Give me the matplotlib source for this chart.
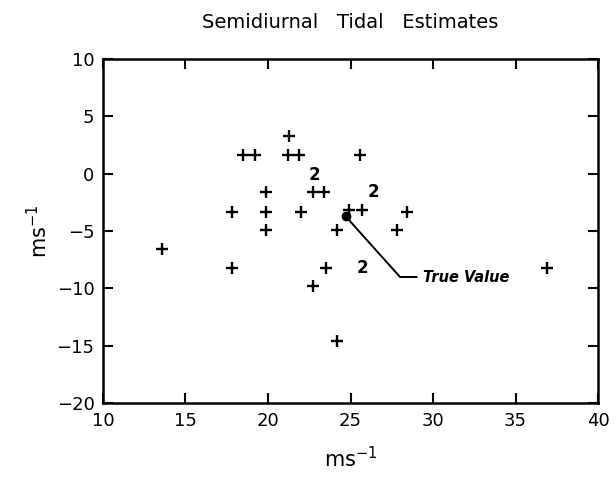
import matplotlib.pyplot as plt

# Estimates (m/s)
est_x = [21.3, 18.5, 19.2, 21.2, 21.9, 25.6,
         22.7, 23.4, 19.9,
         17.8, 19.9, 22.0, 24.9, 25.7, 28.4,
         19.9, 24.2, 27.8,
         13.6, 17.8, 23.5, 22.7, 24.2, 36.9]
est_y = [3.3, 1.6, 1.6, 1.6, 1.6, 1.6,
         -1.6, -1.6, -1.6,
         -3.3, -3.3, -3.3, -3.2, -3.2, -3.3,
         -4.9, -4.9, -4.9,
         -6.6, -8.2, -8.2, -9.8, -14.6, -8.2]

# places where two estimates coincide (drawn as "2")
dup_x = [22.8, 26.4, 25.7]
dup_y = [-0.1, -1.6, -8.2]

true_x, true_y = 24.7, -3.7

fig, ax = plt.subplots(figsize=(6.16, 4.8), dpi=100)
fig.subplots_adjust(left=0.167, right=0.971, bottom=0.160, top=0.877)

ax.plot(est_x, est_y, linestyle='none', marker='+', color='black',
        markersize=9, markeredgewidth=1.7)
for x, y in zip(dup_x, dup_y):
    ax.text(x, y, '2', ha='center', va='center', fontsize=12,
            fontweight='bold', color='black')

ax.plot(true_x, true_y, 'o', color='black', markersize=6)
ax.plot([true_x, 28.0, 29.0], [true_y, -9.0, -9.0], color='black', linewidth=1.4)
ax.text(29.4, -9.0, 'True Value', ha='left', va='center', fontsize=10.5,
        style='italic', fontweight='bold', color='black')

ax.set_xlim(10, 40)
ax.set_ylim(-20, 10)
ax.set_xticks(range(10, 41, 5))
ax.set_yticks(range(-20, 11, 5))
ax.tick_params(direction='in', length=7, width=1.5, labelsize=13,
               top=True, right=True, pad=6)
for s in ax.spines.values():
    s.set_linewidth(1.8)

ax.set_title('Semidiurnal   Tidal   Estimates', fontsize=14, pad=22)
ax.set_xlabel(r'ms$^{\mathregular{-1}}$', fontsize=15, labelpad=12)
ax.set_ylabel(r'ms$^{\mathregular{-1}}$', fontsize=15, labelpad=4)

plt.savefig('out.png', dpi=100)
